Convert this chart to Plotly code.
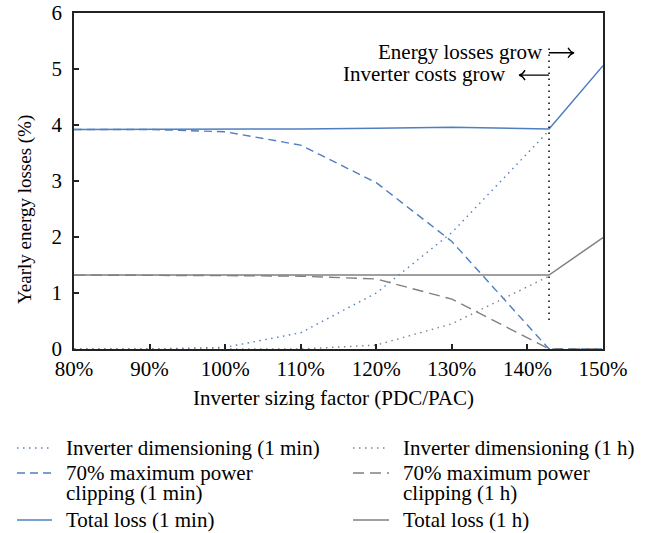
import plotly.graph_objects as go

# Inverter sizing factor (PDC/PAC), in percent
sizing = [80, 90, 100, 110, 120, 130, 142.86, 150]
sizing_dim = [80, 90, 100, 110, 120, 130, 142.86]

# Yearly energy losses (%), 1-minute resolution
total_1min = [3.92, 3.92, 3.92, 3.93, 3.94, 3.96, 3.93, 5.06]
clip_1min = [3.92, 3.92, 3.88, 3.64, 2.97, 1.92, 0.0, 0.0]
dim_1min = [0.0, 0.0, 0.03, 0.29, 1.0, 2.08, 3.90]

# Yearly energy losses (%), 1-hour resolution
total_1h = [1.32, 1.32, 1.32, 1.32, 1.32, 1.32, 1.32, 1.99]
clip_1h = [1.32, 1.32, 1.31, 1.30, 1.25, 0.89, 0.0, 0.0]
dim_1h = [0.0, 0.0, 0.0, 0.0, 0.07, 0.45, 1.30]

x_ticks = [80, 90, 100, 110, 120, 130, 140, 150]
x_tick_text = ["80%", "90%", "100%", "110%", "120%", "130%", "140%", "150%"]
y_ticks = [0, 1, 2, 3, 4, 5, 6]

threshold = 142.86

BLUE = "#4f7fbf"
GRAY = "#808080"
FONT = "Liberation Serif"
FS = 21
DOT = "1.5px,4.5px"
DASH_B = "8px,5px"
DASH_G = "11px,6px"

W, H = 649, 533
ML, MR, MT, MB = 74, 46, 13, 184
PW, PH = W - ML - MR, H - MT - MB


def px_x(px):
    return (px - ML) / PW


def px_y(py):
    return (H - MB - py) / PH


series = [
    (sizing_dim, dim_1min, "Inverter dimensioning (1 min)", BLUE, DOT, 1.4),
    (sizing, clip_1min, "70% maximum power<br>clipping (1 min)", BLUE, DASH_B, 1.4),
    (sizing, total_1min, "Total loss (1 min)", BLUE, None, 1.5),
    (sizing_dim, dim_1h, "Inverter dimensioning (1 h)", GRAY, DOT, 1.4),
    (sizing, clip_1h, "70% maximum power<br>clipping (1 h)", GRAY, DASH_G, 1.4),
    (sizing, total_1h, "Total loss (1 h)", GRAY, None, 1.5),
]

fig = go.Figure()
for xs, ys, name, color, dash, width in series:
    fig.add_trace(go.Scatter(x=xs, y=ys, mode="lines", name=name.replace("<br>", " "),
                             showlegend=False,
                             line=dict(color=color, width=width, dash=dash or "solid")))

# Legend drawn below the axes in two columns: 1 min (left) and 1 h (right)
col_line = [(17, 52, 65), (353, 389, 402)]
row_y = [448, 473, 520]
for i, (xs, ys, name, color, dash, width) in enumerate(series):
    col, row = divmod(i, 3)
    x0, x1, xt = col_line[col]
    y = row_y[row]
    fig.add_shape(type="line", xref="paper", yref="paper",
                  x0=px_x(x0), x1=px_x(x1), y0=px_y(y), y1=px_y(y),
                  line=dict(color=color, width=width, dash=dash or "solid"))
    for k, part in enumerate(name.split("<br>")):
        fig.add_annotation(xref="paper", yref="paper",
                           x=px_x(xt), y=px_y(y + 20 * k),
                           text=part, showarrow=False, borderpad=0,
                           xanchor="left", yanchor="middle",
                           font=dict(family=FONT, size=FS, color="black"))

# Vertical marker at the 70% clipping sizing factor
fig.add_shape(type="line", x0=threshold, x1=threshold, y0=0.52, y1=5.39,
              xref="x", yref="y",
              line=dict(color="black", width=1.5, dash="1.5px,4.5px"))

# Direction arrows next to the marker (pixel offsets from the marker)
arrow_right = "M0,0 L25,0 M19,5 Q21,1 25,0 Q21,-1 19,-5"
arrow_left = "M0,0 L-30,0 M-24,5 Q-26,1 -30,0 Q-26,-1 -24,-5"
fig.add_shape(type="path", xref="x", yref="y",
              xsizemode="pixel", ysizemode="pixel",
              xanchor=threshold, yanchor=5.29, path=arrow_right,
              line=dict(color="black", width=1.3))
fig.add_shape(type="path", xref="x", yref="y",
              xsizemode="pixel", ysizemode="pixel",
              xanchor=threshold, yanchor=4.89, path=arrow_left,
              line=dict(color="black", width=1.3))

fig.add_annotation(x=threshold, y=5.31, xref="x", yref="y",
                   text="Energy losses grow", showarrow=False,
                   xanchor="right", yanchor="middle", xshift=-4,
                   font=dict(family=FONT, size=FS, color="black"))
fig.add_annotation(x=threshold, y=4.91, xref="x", yref="y",
                   text="Inverter costs grow", showarrow=False,
                   xanchor="right", yanchor="middle", xshift=-41,
                   font=dict(family=FONT, size=FS, color="black"))

# Axis titles
fig.add_annotation(xref="paper", yref="paper", x=px_x(333), y=px_y(398),
                   text="Inverter sizing factor (PDC/PAC)", showarrow=False,
                   xanchor="center", yanchor="middle",
                   font=dict(family=FONT, size=FS, color="black"))
fig.add_annotation(xref="paper", yref="paper", x=px_x(25), y=px_y(210),
                   text="Yearly energy losses (%)", showarrow=False,
                   textangle=-90, xanchor="center", yanchor="middle",
                   font=dict(family=FONT, size=19, color="black"))

axis_common = dict(showgrid=False, zeroline=False, showline=True,
                   linecolor="#222", linewidth=1.5, mirror=True,
                   ticks="inside", ticklen=5, tickcolor="#222", tickwidth=1.5,
                   tickfont=dict(family=FONT, size=FS, color="black"))

fig.update_xaxes(range=[80, 150], tickvals=x_ticks, ticktext=x_tick_text,
                 **axis_common)
fig.update_yaxes(range=[0, 6], tickvals=y_ticks, ticklabelstandoff=6,
                 **axis_common)

fig.update_layout(
    width=W, height=H,
    margin=dict(l=ML, r=MR, t=MT, b=MB, autoexpand=False),
    paper_bgcolor="white", plot_bgcolor="white",
    showlegend=False,
)

fig.write_html("out.html")
